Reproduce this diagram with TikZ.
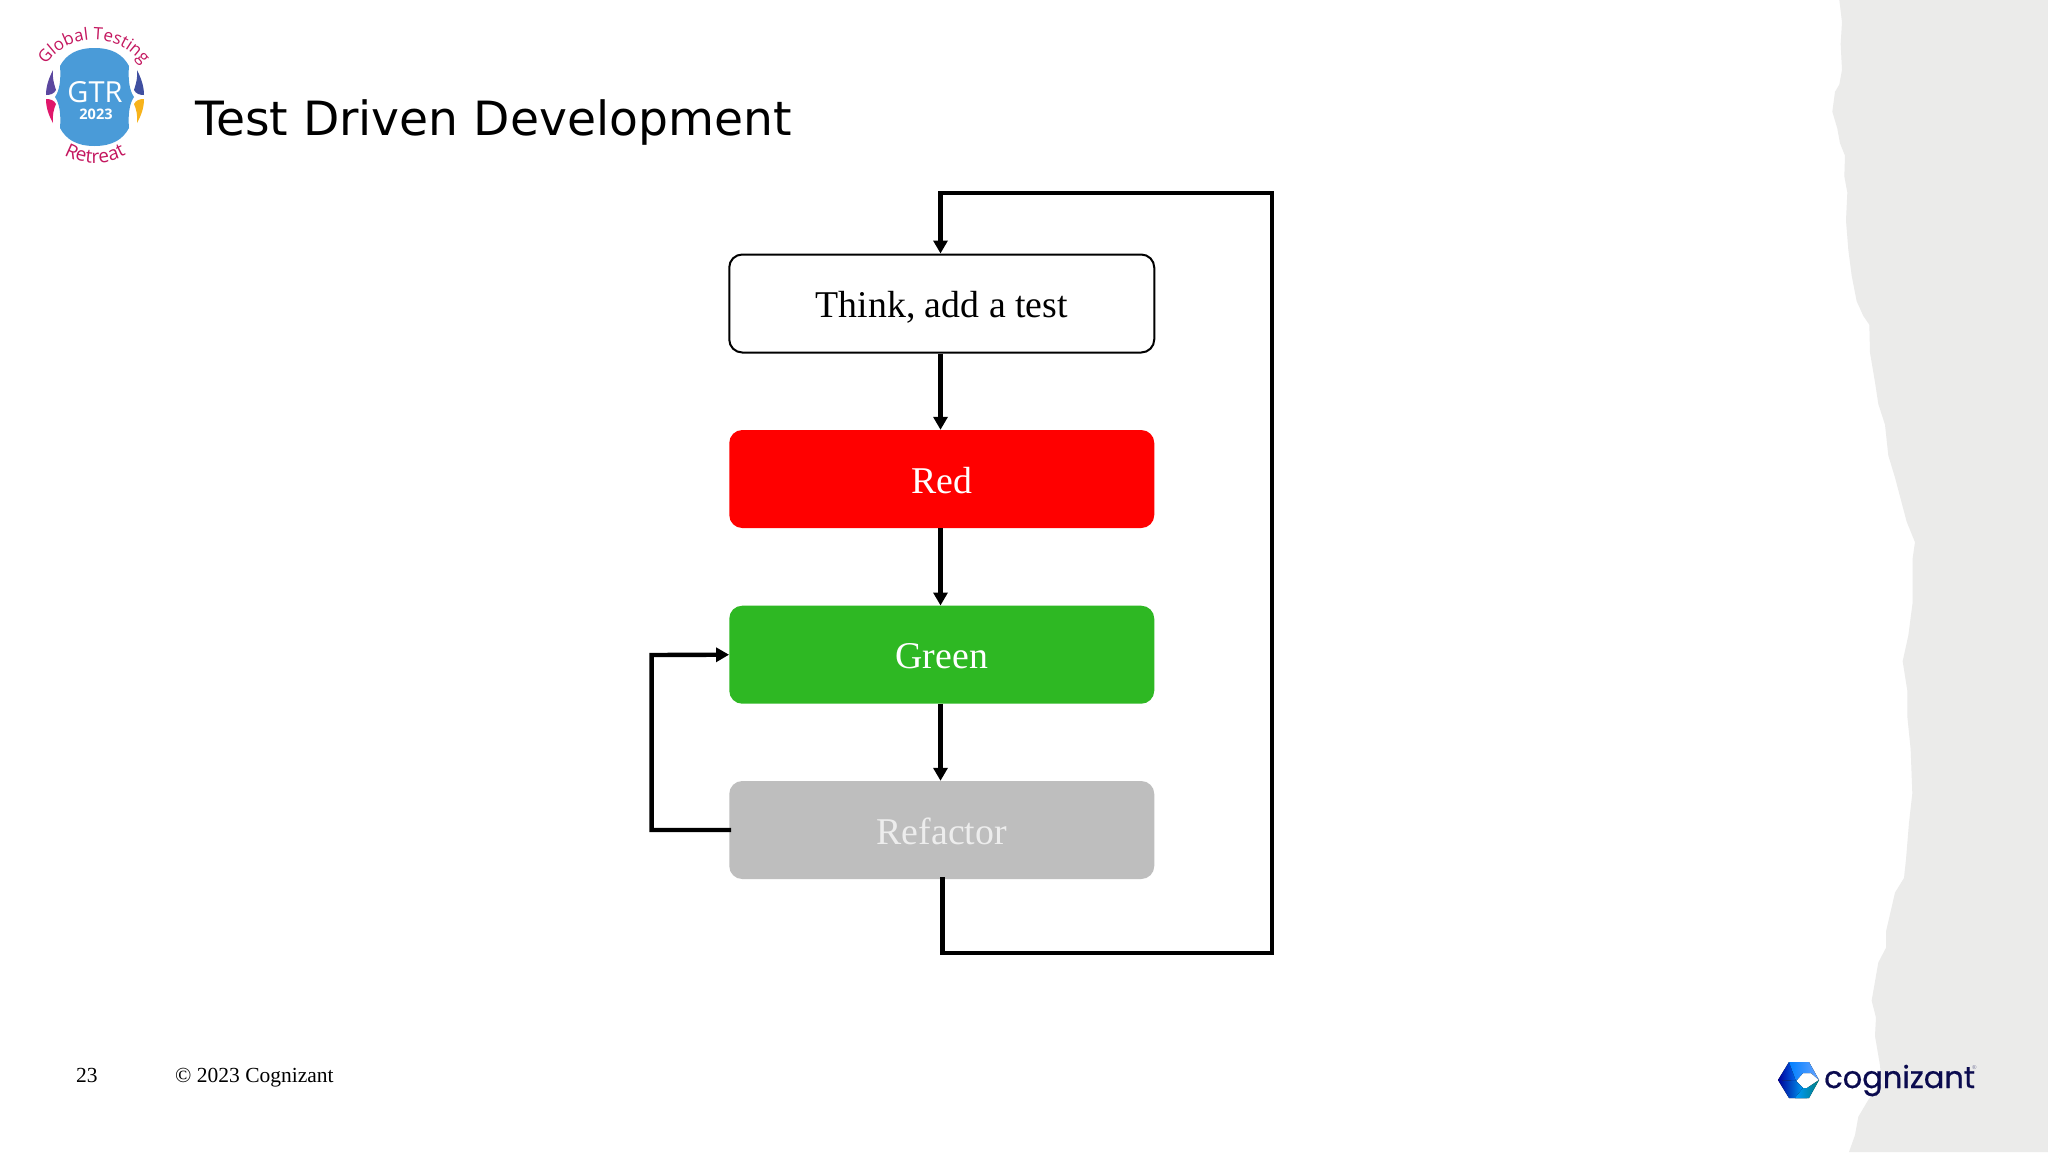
\documentclass[tikz,border=0pt]{standalone}
\usepackage{fontspec}
\usetikzlibrary{arrows.meta,decorations.text}
\setmainfont{Liberation Serif}
\newfontfamily\titlefont{DejaVu Sans}
\newfontfamily\badgefont{Open Sans}
\newfontfamily\brandfont[FakeBold=0.6]{Poppins}
\definecolor{paper}{HTML}{EBEBEA}
\definecolor{tddred}{HTML}{FF0000}
\definecolor{tddgreen}{HTML}{2EB823}
\definecolor{tddgrey}{HTML}{BEBEBE}
\definecolor{badgeblue}{HTML}{4A9BD8}
\definecolor{crim}{HTML}{C4175F}
\definecolor{navy}{HTML}{0B0B4F}
\definecolor{crespurple}{HTML}{5B479F}
\definecolor{cresmagenta}{HTML}{E0176B}
\definecolor{cresblue}{HTML}{3F4FA0}
\definecolor{cresgold}{HTML}{F7B31B}
\tikzset{
  flowbox/.style={rectangle,rounded corners=13pt,minimum width=425pt,minimum height=98pt,
    inner sep=0pt,text height=28.5pt,text depth=0pt,font=\fontsize{37.8}{40}\selectfont},
  flowfill/.style={flowbox,fill=#1,text=white},
  flowline/.style={line width=4.4pt,black,miter limit=10},
  flowarrow/.style={flowline,-{Triangle[length=13pt,width=14pt]}},
  badgetext/.style={white,inner sep=0pt,anchor=base},
  pagetext/.style={inner sep=0pt,anchor=base west,font=\fontsize{21.5}{24}\selectfont}
}
\begin{document}
\begin{tikzpicture}[x=1pt,y=-1pt]
\useasboundingbox (0,0) rectangle (2048,1152);
\fill[white] (0,0) rectangle (2048,1152);
% torn paper edge
\begin{scope}[shift={(1780,0)},x=0.3333pt,y=-0.7347pt]
\fill[paper] (178,0)--(186,30)--(182,60)--(186,95)--(178,115)--(165,125)--(157,152)--(172,175)--(180,195)--(195,212)--(193,240)--(202,262)--(198,300)--(205,340)--(215,375)--(230,410)--(250,430)--(268,442)--(270,480)--(285,520)--(295,550)--(315,578)--(325,620)--(345,650)--(380,710)--(405,738)--(398,760)--(398,820)--(385,865)--(368,900)--(382,940)--(382,975)--(392,1020)--(397,1080)--(387,1120)--(378,1170)--(372,1195)--(345,1215)--(318,1268)--(318,1290)--(295,1310)--(275,1362)--(288,1385)--(285,1410)--(300,1450)--(305,1475)--(265,1497)--(235,1520)--(225,1545)--(207,1568)--(804,1568)--(804,0)--cycle;
\end{scope}
% GTR badge
\fill[badgeblue] (60,66) .. controls (66,55) and (76,48) .. (94.5,48) .. controls (113,48) and (123,55) .. (129,66)
  .. controls (128,78) and (129,90) .. (134,97) .. controls (129,104) and (128,116) .. (129,128)
  .. controls (123,139) and (113,146) .. (94.5,146) .. controls (76,146) and (66,139) .. (60,128)
  .. controls (61,116) and (60,104) .. (55,97) .. controls (60,90) and (61,78) .. (60,66) -- cycle;
\fill[crespurple] (53,70) .. controls (49,78) and (46,86) .. (46,95) .. controls (50,95) and (54,94) .. (56,90) .. controls (54,84) and (52,77) .. (53,70) -- cycle;
\fill[cresmagenta] (46,99) .. controls (46,108) and (49,116) .. (53,123) .. controls (52,116) and (54,108) .. (56,104) .. controls (54,100) and (50,99) .. (46,99) -- cycle;
\fill[cresblue] (137,70) .. controls (141,78) and (144,86) .. (144,95) .. controls (140,95) and (136,94) .. (134,90) .. controls (136,84) and (138,77) .. (137,70) -- cycle;
\fill[cresgold] (144,99) .. controls (144,108) and (141,116) .. (137,123) .. controls (138,116) and (136,108) .. (134,104) .. controls (136,100) and (140,99) .. (144,99) -- cycle;
\node[badgetext,font=\badgefont\fontsize{29}{30}\selectfont] (gtr) at (95,102) {GTR};
\node[badgetext,font=\badgefont\bfseries\fontsize{14.5}{16}\selectfont] (year) at (96,119) {2023};
\path[decorate,decoration={text along path,text align=center,text={|\badgefont\fontsize{17}{18}\selectfont\color{crim}|Global Testing}}]
  (34,100) arc[start angle=180,end angle=360,radius=60];
\path[decorate,decoration={text along path,text align=center,text={|\badgefont\fontsize{19}{20}\selectfont\color{crim}|Retreat}}]
  (32,100) arc[start angle=180,end angle=0,radius=63];
% title and footer
\node[inner sep=0pt,anchor=base west,font=\titlefont\fontsize{47.2}{50}\selectfont] (title) at (195,135) {Test Driven Development};
\node[pagetext] (pagenum) at (76,1082) {23};
\node[pagetext] (copy) at (175,1082) {© 2023 Cognizant};
% cognizant logo
\fill[left color=blue!60!black,right color=blue!50!cyan] (1778,1080)--(1789,1062)--(1800,1062)--(1796,1081)--cycle;
\fill[left color=blue!50!cyan,right color=cyan!40!blue!60!white] (1789,1062)--(1809,1062)--(1819,1080)--(1811,1073)--(1803,1073)--(1796,1081)--cycle;
\fill[left color=blue!60!black,right color=cyan!70!blue] (1778,1080)--(1796,1081)--(1803,1088)--(1807,1098)--(1789,1098)--cycle;
\fill[left color=cyan!60!blue,right color=teal] (1803,1088)--(1807,1088)--(1819,1080)--(1809,1098)--(1795,1098)--cycle;
\node[inner sep=0pt,anchor=base west,text=navy,font=\brandfont\fontsize{30.5}{32}\selectfont] (brand) at (1824,1088) {cognizant};
\node[inner sep=0pt,anchor=base west,text=navy!60,font=\fontsize{6}{7}\selectfont] (reg) at (1972,1069) {®};
% flow boxes
\node[flowbox,draw=black,line width=2pt,fill=white] (think) at (941.75,303.5) {Think, add a test};
\node[flowfill=tddred] (red) at (941.75,479) {Red};
\node[flowfill=tddgreen] (green) at (941.75,654.7) {Green};
\node[flowfill=tddgrey,text=white!93!black] (refactor) at (941.75,830) {Refactor};
% connectors
\coordinate (topcorner) at (940.5,193);
\coordinate (topright) at (1272,193);
\coordinate (botright) at (1272,952.7);
\coordinate (botleft) at (942.6,952.7);
\coordinate (loopbot) at (651.6,830);
\coordinate (looptop) at (651.6,655);
\draw[flowarrow] ([xshift=-1.25pt]think.south) -- ([xshift=-1.25pt]red.north);
\draw[flowarrow] ([xshift=-1.25pt]red.south) -- ([xshift=-1.25pt]green.north);
\draw[flowarrow] ([xshift=-1.25pt]green.south) -- ([xshift=-1.25pt]refactor.north);
\draw[flowarrow] ([xshift=0.85pt,yshift=2pt]refactor.south) -- (botleft) -- (botright) -- (topright) -- (topcorner) -- ([xshift=-1.25pt]think.north);
\draw[flowarrow] ([xshift=2pt]refactor.west) -- (loopbot) -- (looptop) -- (green.west);
\end{tikzpicture}
\end{document}
